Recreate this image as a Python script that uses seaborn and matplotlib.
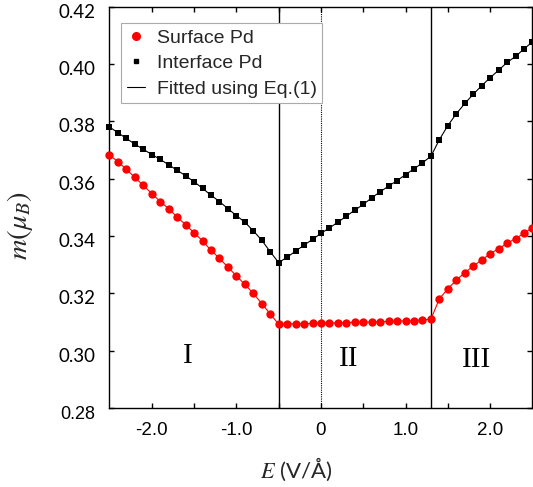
import numpy as np
import pandas as pd
import matplotlib
matplotlib.use("Agg")
import matplotlib.pyplot as plt
import seaborn as sns
from matplotlib.lines import Line2D
from matplotlib.transforms import ScaledTranslation

# Electric field (V/Å)
field = [-2.5, -2.4, -2.3, -2.2, -2.1, -2.0, -1.9, -1.8, -1.7, -1.6,
         -1.5, -1.4, -1.3, -1.2, -1.1, -1.0, -0.9, -0.8, -0.7, -0.6,
         -0.5, -0.4, -0.3, -0.2, -0.1, 0.0, 0.1, 0.2, 0.3, 0.4,
         0.5, 0.6, 0.7, 0.8, 0.9, 1.0, 1.1, 1.2, 1.3, 1.4,
         1.5, 1.6, 1.7, 1.8, 1.9, 2.0, 2.1, 2.2, 2.3, 2.4, 2.5]

# Magnetic moment of the surface Pd atom (mu_B)
surface_pd = [0.3682, 0.3659, 0.3632, 0.3604, 0.3576, 0.3548, 0.3520, 0.3495, 0.3466, 0.3439,
              0.3411, 0.3383, 0.3350, 0.3322, 0.3291, 0.3261, 0.3231, 0.3200, 0.3164, 0.3128,
              0.3092, 0.3093, 0.3094, 0.3094, 0.3095, 0.3095, 0.3096, 0.3097, 0.3098, 0.3099,
              0.3099, 0.3100, 0.3101, 0.3102, 0.3103, 0.3104, 0.3105, 0.3107, 0.3110, 0.3181,
              0.3216, 0.3246, 0.3272, 0.3295, 0.3316, 0.3338, 0.3356, 0.3374, 0.3391, 0.3409, 0.3429]

# Magnetic moment of the interface Pd atom (mu_B)
interface_pd = [0.3780, 0.3760, 0.3740, 0.3720, 0.3702, 0.3684, 0.3667, 0.3648, 0.3629, 0.3610,
                0.3589, 0.3566, 0.3542, 0.3520, 0.3495, 0.3471, 0.3448, 0.3418, 0.3385, 0.3345,
                0.3307, 0.3326, 0.3347, 0.3368, 0.3388, 0.3409, 0.3428, 0.3448, 0.3469, 0.3490,
                0.3510, 0.3533, 0.3554, 0.3574, 0.3593, 0.3614, 0.3634, 0.3655, 0.3678, 0.3736,
                0.3785, 0.3826, 0.3862, 0.3894, 0.3924, 0.3952, 0.3978, 0.4005, 0.4026, 0.4052, 0.4077]

# Region boundaries and labels
boundaries = [-0.5, 1.3]
region_names = ["I", "II", "III"]
region_x = [-1.573, 0.33, 1.84]
region_y = [0.2956, 0.2945, 0.2942]

x_ticks = [-2.0, -1.5, -1.0, -0.5, 0.0, 0.5, 1.0, 1.5, 2.0]
x_tick_labels = ["-2.0", "", "-1.0", "", "0", "", "1.0", "", "2.0"]
y_ticks = [0.28, 0.30, 0.32, 0.34, 0.36, 0.38, 0.40, 0.42]
y_tick_labels = ["0.28", "0.30", "0.32", "0.34", "0.36", "0.38", "0.40", "0.42"]

sns.set_theme(style="ticks")
plt.rcParams.update({
    "font.family": ["Liberation Sans", "DejaVu Sans"],
    "mathtext.fontset": "stix",
    "axes.linewidth": 1.0,
    "axes.edgecolor": "black",
})

df = pd.DataFrame({"E": field, "surface": surface_pd, "interface": interface_pd})

fig = plt.figure(figsize=(5.33, 4.87), dpi=100)
ax = fig.add_axes([0.2054, 0.1622, 0.7936, 0.8244])

# Connecting (fitted) curves
sns.lineplot(data=df, x="E", y="interface", color="black", lw=0.8, ax=ax,
             clip_on=False, zorder=3)
sns.lineplot(data=df, x="E", y="surface", color="#ff0000", lw=0.8, ax=ax,
             clip_on=False, zorder=3)
# Calculated points
sns.scatterplot(data=df, x="E", y="interface", marker="s", s=18, color="black",
                linewidth=0, ax=ax, clip_on=False, zorder=4)
sns.scatterplot(data=df, x="E", y="surface", marker="o", s=36, color="#ff0000",
                linewidth=0, ax=ax, clip_on=False, zorder=4)

for b in boundaries:
    ax.axvline(b, color="black", lw=1.0, zorder=2)
ax.axvline(0.0, color="black", lw=0.8, ls=(0, (1, 1)), zorder=2)

for name, xr, yr in zip(region_names, region_x, region_y):
    ax.text(xr, yr, name, family="Liberation Serif", fontsize=21,
            ha="center", va="baseline", color="black")

ax.set_xlim(-2.5, 2.5)
ax.set_ylim(0.28, 0.42)
ax.set_xticks(x_ticks)
ax.set_xticklabels(x_tick_labels)
ax.set_yticks(y_ticks)
ax.set_yticklabels(y_tick_labels)
ax.tick_params(axis="both", which="major", direction="in", length=3.6, width=1.0,
               top=True, right=True, colors="black", labelsize=13.5, pad=10)
for lbl in ax.get_yticklabels():
    lbl.set_fontfamily(["Lato", "DejaVu Sans"])
    lbl.set_transform(lbl.get_transform() +
                      ScaledTranslation(0, -0.04, fig.dpi_scale_trans))
ax.get_yticklabels()[0].set_fontfamily(["Liberation Sans"])
ax.get_yticklabels()[0].set_fontsize(13)

ax.set_ylabel(r"$m(\mu_B)$", fontsize=20.5, ha="center", va="center")
ax.yaxis.set_label_coords(-0.2116, 0.4546)
ax.set_xlabel(r"$E$ (V/Å)", fontsize=16, family=["Lato", "DejaVu Sans"],
              ha="center", va="center")
ax.xaxis.set_label_coords(0.442, -0.153)

handles = [
    Line2D([], [], marker="o", ls="none", color="#ff0000", markersize=5.5),
    Line2D([], [], marker="s", ls="none", color="black", markersize=3.5),
    Line2D([], [], color="black", lw=0.8),
]
labels = ["Surface Pd", "Interface Pd", "Fitted using Eq.(1)"]
leg = ax.legend(handles, labels, loc="upper left", bbox_to_anchor=(0.0265, 0.958),
                borderaxespad=0, frameon=True, fancybox=False, framealpha=1,
                edgecolor="#aaaaaa", fontsize=14, handlelength=0.95,
                handletextpad=0.6, labelspacing=0.4, borderpad=0.3)
leg.get_frame().set_linewidth(0.8)
leg.set_zorder(6)

fig.savefig("out.png", dpi=100)
